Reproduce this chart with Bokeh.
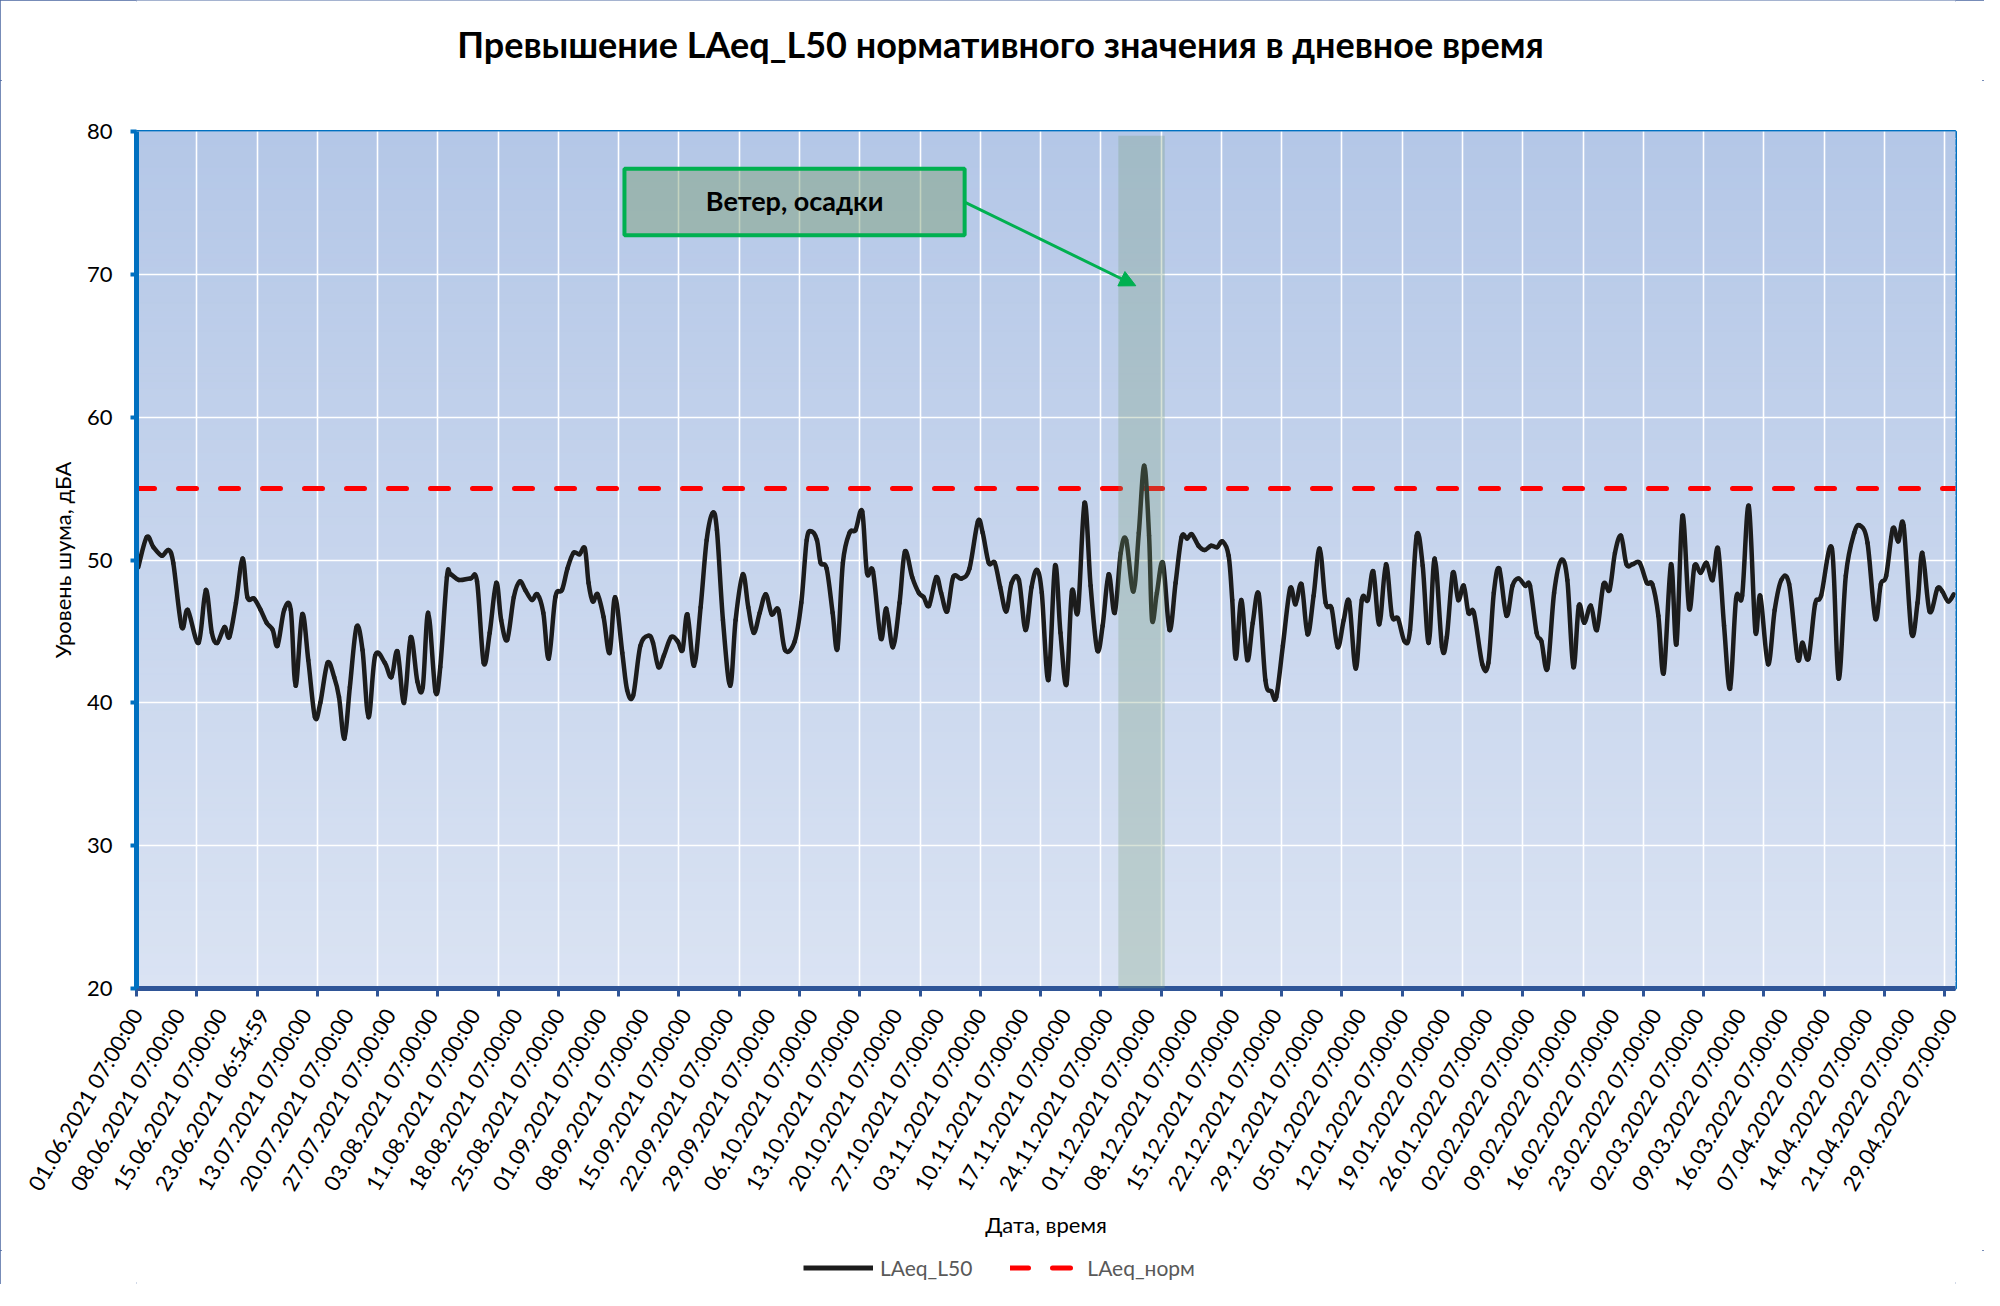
import math
import numpy as np
from bokeh.plotting import figure
from bokeh.layouts import column
from bokeh.models import (FixedTicker, Legend, LegendItem, Label, BoxAnnotation,
                          Arrow, NormalHead)
from bokeh.embed import file_html
from bokeh.resources import INLINE

# ---------------- data ----------------
tick_labels = [
    "01.06.2021 07:00:00", "08.06.2021 07:00:00", "15.06.2021 07:00:00", "23.06.2021 06:54:59",
    "13.07.2021 07:00:00", "20.07.2021 07:00:00", "27.07.2021 07:00:00", "03.08.2021 07:00:00",
    "11.08.2021 07:00:00", "18.08.2021 07:00:00", "25.08.2021 07:00:00", "01.09.2021 07:00:00",
    "08.09.2021 07:00:00", "15.09.2021 07:00:00", "22.09.2021 07:00:00", "29.09.2021 07:00:00",
    "06.10.2021 07:00:00", "13.10.2021 07:00:00", "20.10.2021 07:00:00", "27.10.2021 07:00:00",
    "03.11.2021 07:00:00", "10.11.2021 07:00:00", "17.11.2021 07:00:00", "24.11.2021 07:00:00",
    "01.12.2021 07:00:00", "08.12.2021 07:00:00", "15.12.2021 07:00:00", "22.12.2021 07:00:00",
    "29.12.2021 07:00:00", "05.01.2022 07:00:00", "12.01.2022 07:00:00", "19.01.2022 07:00:00",
    "26.01.2022 07:00:00", "02.02.2022 07:00:00", "09.02.2022 07:00:00", "16.02.2022 07:00:00",
    "23.02.2022 07:00:00", "02.03.2022 07:00:00", "09.03.2022 07:00:00", "16.03.2022 07:00:00",
    "07.04.2022 07:00:00", "14.04.2022 07:00:00", "21.04.2022 07:00:00", "29.04.2022 07:00:00",
]
label_step = 7          # one date label every 7 records
grid_step = 10          # one tick mark / grid line every 10 records
n_records = 302

# positions (record index) and LAeq_L50 values
sample_pos = [
    0.3, 1.7, 2.8, 4.2, 5.3, 6.1, 7.5, 8.5, 10.3, 11.5, 12.5, 13.4, 14.6, 15.4, 16.5, 17.6, 18.4, 19.5,
    20.6, 21.6, 22.6, 23.4, 24.5, 25.6, 26.4, 27.5, 28.5, 29.6, 30.5, 31.7, 32.8, 33.6, 34.5, 35.4,
    36.5, 37.5, 38.5, 39.6, 41.2, 42.3, 43.3, 44.4, 45.5, 46.6, 47.5, 48.4,
    49.6, 50.4, 51.5, 52.1, 53.5, 55.4, 56.5, 57.6, 58.6, 59.7, 60.5, 61.5, 62.6, 63.6, 64.5, 65.6,
    66.5, 67.5, 68.4, 69.5, 70.6, 71.5, 72.5, 73.5, 74.4, 75.0, 75.7, 76.5, 77.5, 78.5, 79.4, 80.6,
    81.4, 82.4, 83.6, 85.0, 85.7, 86.6, 87.5, 88.7, 89.8, 90.6, 91.4, 92.5, 93.6, 94.6, 95.6, 96.3,
    97.3, 98.5,
    99.4, 100.6, 101.5, 102.4, 103.4, 104.4, 105.4, 106.5, 107.6, 109.2, 110.3, 111.2, 112.0, 112.9,
    113.5, 114.5, 115.5, 116.3, 117.2, 118.3, 119.3, 120.4, 121.2, 122.2, 123.5, 124.4, 125.5, 126.6,
    127.5, 128.7, 129.8, 130.6, 131.5, 132.7, 133.5, 134.5, 135.5, 136.9, 138.2, 139.6, 140.4, 141.4,
    142.4, 143.3, 144.3, 145.2, 146.4, 147.5, 148.5, 149.4,
    150.2, 151.3, 152.4, 153.3, 154.3, 155.2, 156.2, 157.3, 158.3, 159.4, 160.3, 161.3, 162.3, 163.3,
    164.2, 165.4, 166.3, 167.2, 168.0, 168.5, 169.3, 170.3, 171.4, 172.4, 173.4, 174.3, 175.1, 176.2,
    177.2, 178.3, 179.3, 180.2, 181.2, 181.8, 182.4, 183.3, 184.3, 185.2, 186.2, 187.3, 188.3, 189.1,
    190.2, 191.4, 192.3, 193.3, 194.3, 195.3, 196.3, 197.3, 198.3, 199.3,
    200.3, 201.2, 202.3, 203.3, 204.3, 205.2, 206.2, 207.3, 208.3, 209.3, 210.4, 211.3, 212.4, 213.4,
    214.4, 215.4, 216.6, 217.4, 218.4, 219.3, 220.2, 221.0, 221.9, 223.3, 224.3, 225.2, 226.1, 227.3,
    228.3, 229.3, 230.4, 231.2, 232.3, 233.1, 234.1, 235.2, 236.4, 237.4, 238.4, 239.3, 240.2, 241.3,
    242.3, 243.4, 244.4, 245.3, 246.3, 247.2, 248.2,
    249.4, 250.6, 251.5, 252.5, 253.4, 254.6, 255.5, 256.5, 257.6, 258.5, 259.5, 260.5, 261.5, 262.4,
    263.4, 264.4, 265.4, 266.4, 267.5, 268.6, 269.4, 270.7, 271.8, 272.9, 274.2, 275.6, 276.4, 277.4,
    278.5, 279.5, 281.3, 282.4, 283.6, 285.0, 286.0, 287.2, 288.5, 289.4, 290.3, 291.4, 292.3, 293.2,
    294.5, 295.5, 296.3, 297.5, 298.8, 299.6, 300.6, 301.5,
]
laeq_l50 = [
    49.5, 51.6, 50.9, 50.3, 50.7, 49.8, 45.3, 46.5, 44.2, 47.9, 44.9, 44.2, 45.3, 44.6, 47.0, 50.1, 47.4, 47.3,
    46.5, 45.6, 45.1, 44.0, 46.5, 46.5, 41.2, 46.2, 43.0, 39.0, 40.0, 42.8, 41.8, 40.4, 37.5, 41.1,
    45.3, 43.7, 39.0, 43.3, 42.8, 41.8, 43.6, 40.0, 44.6, 41.5, 41.1, 46.3,
    40.8, 42.5, 48.8, 49.0, 48.6, 48.7, 48.5, 42.8, 44.9, 48.4, 45.8, 44.4, 47.4, 48.5, 47.9, 47.2,
    47.6, 46.3, 43.1, 47.4, 47.9, 49.4, 50.5, 50.4, 50.8, 48.4, 47.1, 47.6, 46.0, 43.5, 47.4, 43.5,
    40.9, 40.5, 44.0, 44.7, 44.2, 42.5, 43.3, 44.6, 44.3, 43.7, 46.2, 42.6, 46.7, 51.4, 53.3, 52.1,
    45.8, 41.2,
    45.8, 49.0, 46.7, 44.9, 46.3, 47.6, 46.2, 46.5, 43.7, 44.3, 47.0, 51.4, 52.0, 51.4,
    49.8, 49.4, 46.3, 43.8, 49.8, 51.9, 52.1, 53.4, 49.1, 49.2, 44.5, 46.6, 43.9, 47.0,
    50.6, 48.8, 47.7, 47.4, 46.8, 48.8, 47.7, 46.4, 48.8, 48.7, 49.4, 52.7, 51.9, 49.8,
    49.8, 48.1, 46.4, 48.4, 48.6, 45.1, 48.1, 49.3,
    47.7, 41.6, 49.6, 44.9, 41.3, 47.8, 46.4, 54.0, 48.2, 43.7, 45.4, 49.0, 46.3, 50.5,
    51.4, 47.8, 51.9, 56.6, 51.7, 45.8, 47.7, 49.8, 45.1, 48.4, 51.6, 51.5, 51.8, 51.0,
    50.7, 51.0, 50.9, 51.3, 50.3, 47.2, 43.1, 47.2, 43.0, 45.6, 47.6, 41.6, 40.8, 40.4,
    44.0, 48.0, 46.9, 48.3, 44.8, 47.5, 50.8, 47.0, 46.6, 43.9,
    45.8, 47.1, 42.4, 47.2, 47.2, 49.2, 45.5, 49.7, 46.1, 45.9, 44.3, 45.1, 51.7, 49.6,
    44.2, 50.1, 43.9, 44.6, 49.1, 47.2, 48.2, 46.3, 46.3, 42.7, 42.8, 47.7, 49.4, 46.1,
    48.2, 48.7, 48.2, 48.2, 44.9, 44.3, 42.4, 47.7, 50.0, 48.6, 42.5, 46.8, 45.6, 46.8,
    45.1, 48.3, 47.9, 50.5, 51.7, 49.7, 49.7,
    49.8, 48.4, 48.3, 46.1, 42.1, 49.7, 44.1, 53.1, 46.6, 49.6, 49.1, 49.8, 48.6, 50.8,
    45.4, 41.0, 47.3, 47.5, 53.8, 45.0, 47.5, 42.7, 46.5, 48.6, 48.3, 43.1, 44.2, 43.1,
    46.9, 47.5, 50.8, 41.7, 48.9, 51.9, 52.4, 51.2, 45.9, 48.3, 48.9, 52.2, 51.3, 52.4,
    44.9, 47.0, 50.5, 46.4, 48.0, 47.8, 47.1, 47.6,
]
laeq_norm = 55.0

# period "Ветер, осадки" (record index range)
event_start = 162.9
event_end = 170.6
event_text = "Ветер, осадки"

title_text = "Превышение LAeq_L50 нормативного значения в дневное время"
x_title = "Дата, время"
y_title = "Уровень шума, дБА"
series_names = ["LAeq_L50", "LAeq_норм"]
y_min, y_max, y_step = 20, 80, 10

# ---------------- layout sizes ----------------
W = 1984
H_TOP, H_MAIN, H_LEG = 80, 1170, 34
BL, BR = 136, 29
BT = 131 - H_TOP
BB = H_MAIN - (988 - H_TOP)
x_end = n_records - 0.2
FONT = "Lato"
C_L50 = "#1c1c1c"
C_NORM = "#ff0000"


def strip(height):
    f = figure(width=W, height=height, output_backend="svg", toolbar_location=None,
               x_range=(0, 1), y_range=(0, 1), min_border=0)
    f.axis.visible = False
    f.grid.visible = False
    f.outline_line_color = None
    f.background_fill_color = "white"
    f.border_fill_color = "white"
    f.title.visible = False
    return f


# ---------------- title strip ----------------
t = strip(H_TOP)
t.add_layout(Label(x=1000 - BL, y=H_TOP - 43, x_units="screen", y_units="screen",
                   text=title_text, text_align="center", text_baseline="middle",
                   text_font=FONT, text_font_style="bold", text_font_size="36px",
                   text_color="black"))

# ---------------- main figure ----------------
p = figure(width=W, height=H_MAIN, output_backend="svg", toolbar_location=None,
           x_range=(0, x_end), y_range=(y_min, y_max),
           min_border_left=BL, min_border_right=BR, min_border_top=BT, min_border_bottom=BB)
p.title.visible = False
p.background_fill_color = "#dae3f3"
p.border_fill_color = "white"
p.outline_line_color = "#0070c0"
p.outline_line_width = 3
p.outline_line_alpha = 1.0

# gradient background of the plot area
nb = 120
edges = np.linspace(y_min, y_max, nb + 1)
c_top = np.array([0xb4, 0xc7, 0xe7], dtype=float)
c_bot = np.array([0xda, 0xe3, 0xf3], dtype=float)
cols = []
for i in range(nb):
    fr = ((edges[i] + edges[i + 1]) / 2 - y_min) / (y_max - y_min)
    c = c_bot + (c_top - c_bot) * fr
    cols.append("#%02x%02x%02x" % tuple(int(round(v)) for v in c))
bg = p.quad(left=-5, right=x_end + 5, bottom=edges[:-1], top=edges[1:],
            fill_color=cols, line_color=cols, line_width=1)
bg.level = "image"

# grids
label_ticks = list(range(0, n_records, label_step))
grid_ticks = list(range(0, n_records, grid_step))
y_ticks = list(range(y_min, y_max + 1, y_step))
p.xgrid.ticker = FixedTicker(ticks=grid_ticks)
p.ygrid.ticker = FixedTicker(ticks=y_ticks)
for g in (p.xgrid, p.ygrid):
    g.grid_line_color = "white"
    g.grid_line_width = 1.6
    g.grid_line_alpha = 1.0

# x axis
xa = p.xaxis[0]
xa.ticker = FixedTicker(ticks=label_ticks, minor_ticks=grid_ticks)
xa.major_label_overrides = {tk: lab for tk, lab in zip(label_ticks, tick_labels)}
xa.major_label_orientation = math.pi / 3
xa.major_tick_line_color = None
xa.major_tick_out = 8
xa.major_tick_in = 0
xa.minor_tick_line_color = "#2f5597"
xa.minor_tick_line_width = 3
xa.minor_tick_out = 8
xa.minor_tick_in = 0
xa.axis_line_color = "#2f5597"
xa.axis_line_width = 5
xa.major_label_text_font = FONT
xa.major_label_text_font_size = "22px"
xa.major_label_text_color = "black"
xa.major_label_standoff = 14
xa.axis_label = x_title
xa.axis_label_text_font = FONT
xa.axis_label_text_font_size = "22px"
xa.axis_label_text_font_style = "normal"
xa.axis_label_text_color = "black"
xa.axis_label_standoff = 6

# y axis
ya = p.yaxis[0]
ya.ticker = FixedTicker(ticks=y_ticks)
ya.axis_line_color = "#0070c0"
ya.axis_line_width = 5
ya.major_tick_line_color = "#0070c0"
ya.major_tick_line_width = 4
ya.major_tick_out = 6
ya.major_tick_in = 0
ya.minor_tick_line_color = None
ya.major_label_text_font = FONT
ya.major_label_text_font_size = "22px"
ya.major_label_text_color = "black"
ya.major_label_standoff = 18
ya.axis_label = y_title
ya.axis_label_text_font = FONT
ya.axis_label_text_font_size = "22px"
ya.axis_label_text_font_style = "normal"
ya.axis_label_text_color = "black"
ya.axis_label_standoff = 8

# norm line
p.line(x=[0, x_end], y=[laeq_norm, laeq_norm], line_color=C_NORM, line_width=5,
       line_dash="18 24", line_cap="round")

# smoothed LAeq_L50 line (Catmull-Rom segments drawn as Bezier curves)
xs = np.array(sample_pos, dtype=float)
ys = np.array(laeq_l50, dtype=float)
n = len(xs)
qx = np.concatenate([[xs[0]], xs, [xs[-1]]])
qy = np.concatenate([[ys[0]], ys, [ys[-1]]])
cx0 = qx[1:n] + (qx[2:n + 1] - qx[0:n - 1]) / 6.0
cy0 = qy[1:n] + (qy[2:n + 1] - qy[0:n - 1]) / 6.0
cx1 = qx[2:n + 1] - (qx[3:n + 2] - qx[1:n]) / 6.0
cy1 = qy[2:n + 1] - (qy[3:n + 2] - qy[1:n]) / 6.0
p.bezier(x0=xs[:-1], y0=ys[:-1], x1=xs[1:], y1=ys[1:], cx0=cx0, cy0=cy0, cx1=cx1, cy1=cy1,
         line_color=C_L50, line_width=4.5, line_cap="round")

# event band (drawn over the lines, semi-transparent)
p.add_layout(BoxAnnotation(left=event_start, right=event_end, bottom=y_min, top=79.7,
                           fill_color="#739b73", fill_alpha=0.28, line_alpha=0))

# callout box + arrow
p.add_layout(BoxAnnotation(left=80.96, right=137.4, bottom=72.74, top=77.4,
                           fill_color="#7a9e70", fill_alpha=0.45,
                           line_color="#00b050", line_width=4, line_alpha=1.0))
p.add_layout(Label(x=109.2, y=75.15, text=event_text, text_align="center", text_baseline="middle",
                   text_font=FONT, text_font_style="bold", text_font_size="27px", text_color="black"))
p.add_layout(Arrow(x_start=137.4, y_start=75.06, x_end=165.8, y_end=69.2,
                   line_color="#00b050", line_width=3,
                   end=NormalHead(size=16, fill_color="#00b050", line_color="#00b050")))

# ---------------- legend strip ----------------
q = strip(H_LEG)
# same series, outside the strip's visible range: only their legend glyphs show
r1 = q.line(x=sample_pos, y=laeq_l50, line_color=C_L50, line_width=5)
r2 = q.line(x=[0, x_end], y=[laeq_norm, laeq_norm], line_color=C_NORM, line_width=5,
            line_dash="18 24", line_cap="round")
legend = Legend(items=[LegendItem(label=series_names[0], renderers=[r1]),
                       LegendItem(label=series_names[1], renderers=[r2])],
                location="left", margin=803 - BL, orientation="horizontal",
                glyph_width=70, glyph_height=24, label_height=24, label_standoff=7,
                spacing=38, padding=0, border_line_color=None,
                background_fill_alpha=0, label_text_font=FONT, label_text_font_size="21px",
                label_text_color="#595959")
q.add_layout(legend)

layout = column(t, p, q, spacing=0)
layout.styles = {"outline": "2px solid #4a66a0", "outline-offset": "-2px", "background": "white"}

open("out.html", "w").write(file_html(layout, INLINE))
